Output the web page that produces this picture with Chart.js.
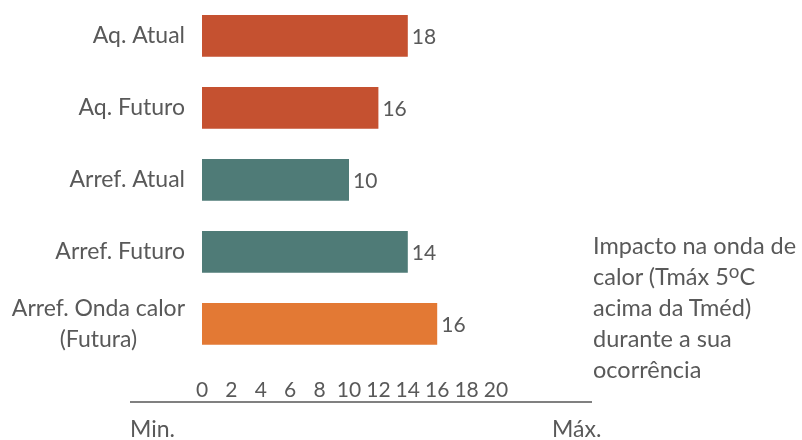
<!DOCTYPE html>
<html>
<head>
<meta charset="utf-8">
<script src="https://cdn.jsdelivr.net/npm/chart.js@4"></script>
<style>
    body { margin: 0; background: #fff; }
    #wrap { position: relative; width: 802px; height: 440px; overflow: hidden; font-family: Lato, sans-serif; color: #595959; }
    #axis_line { position: absolute; left: 130px; top: 401px; width: 462px; height: 2px; background: #808080; }
    .end_label { position: absolute; top: 414px; font-size: 23px; line-height: 29px; }
    #note { position: absolute; left: 593px; top: 230px; font-size: 23.5px; line-height: 31px; white-space: nowrap; }
    #note sup { font-size: 0.8em; vertical-align: 0.35em; line-height: 0; }
</style>
</head>
<body>
<div id="wrap">
    <canvas id="myChart" width="802" height="440"></canvas>
    <div id="axis_line"></div>
    <div class="end_label" style="left:130px">Min.</div>
    <div class="end_label" style="left:552px">Máx.</div>
    <div id="note">Impacto na onda de<br>calor (Tmáx 5<sup>o</sup>C<br>acima da Tméd)<br>durante a sua<br>ocorrência</div>
</div>
<script>
const categories = ["Aq. Atual", "Aq. Futuro", "Arref. Atual", "Arref. Futuro", ["Arref. Onda calor", "(Futura)"]];
// bar lengths as read on the axis, and the numbers printed next to them
const barValues = [14, 12, 10, 14, 16];
const labelValues = [18, 16, 10, 14, 16];
const barColors = ["#c55130", "#c55130", "#4f7b77", "#4f7b77", "#e37934"];
const xTicks = [0, 2, 4, 6, 8, 10, 12, 14, 16, 18, 20];

const textColor = "#595959";

// numbers at the end of each bar
const valueLabels = {
    id: "valueLabels",
    afterDatasetsDraw(chart) {
        const ctx = chart.ctx;
        const bars = chart.getDatasetMeta(0).data;
        ctx.save();
        ctx.font = "21px Lato";
        ctx.fillStyle = textColor;
        ctx.textAlign = "left";
        ctx.textBaseline = "middle";
        bars.forEach((bar, i) => {
            ctx.fillText(labelValues[i], bar.x + 4, bar.y + 1);
        });
        ctx.restore();
    }
};

// category names, right aligned, multi-line ones centred on themselves
const categoryLabels = {
    id: "categoryLabels",
    afterDraw(chart) {
        const ctx = chart.ctx;
        const yScale = chart.scales.y;
        const right = 185;
        const lineH = 31;
        ctx.save();
        ctx.font = "23px Lato";
        ctx.fillStyle = textColor;
        ctx.textBaseline = "middle";
        categories.forEach((label, i) => {
            const y = yScale.getPixelForValue(i);
            if (Array.isArray(label)) {
                let widest = 0;
                label.forEach(l => { widest = Math.max(widest, ctx.measureText(l).width); });
                ctx.textAlign = "center";
                const top = y - (label.length - 1) * lineH / 2;
                label.forEach((l, k) => {
                    ctx.fillText(l, right - widest / 2, top + k * lineH);
                });
            } else {
                ctx.textAlign = "right";
                ctx.fillText(label, right, y);
            }
        });
        ctx.restore();
    }
};

new Chart("myChart", {
    type: "bar",
    data: {
        labels: categories,
        datasets: [{
            data: barValues,
            backgroundColor: barColors,
            borderWidth: 0,
            categoryPercentage: 1,
            barPercentage: 0.58
        }]
    },
    options: {
        indexAxis: "y",
        responsive: false,
        animation: false,
        layout: {
            padding: { left: 202, right: 306, top: 0, bottom: 28 }
        },
        plugins: {
            legend: { display: false },
            tooltip: { enabled: false }
        },
        scales: {
            y: { display: false },
            x: {
                min: 0,
                max: 20,
                grid: { display: false },
                border: { display: false },
                afterBuildTicks(scale) {
                    scale.ticks = xTicks.map(v => ({ value: v }));
                },
                ticks: {
                    padding: 9.5,
                    maxRotation: 0,
                    autoSkip: false,
                    color: textColor,
                    font: { family: "Lato", size: 21 }
                }
            }
        }
    },
    plugins: [valueLabels, categoryLabels]
});
</script>
</body>
</html>
